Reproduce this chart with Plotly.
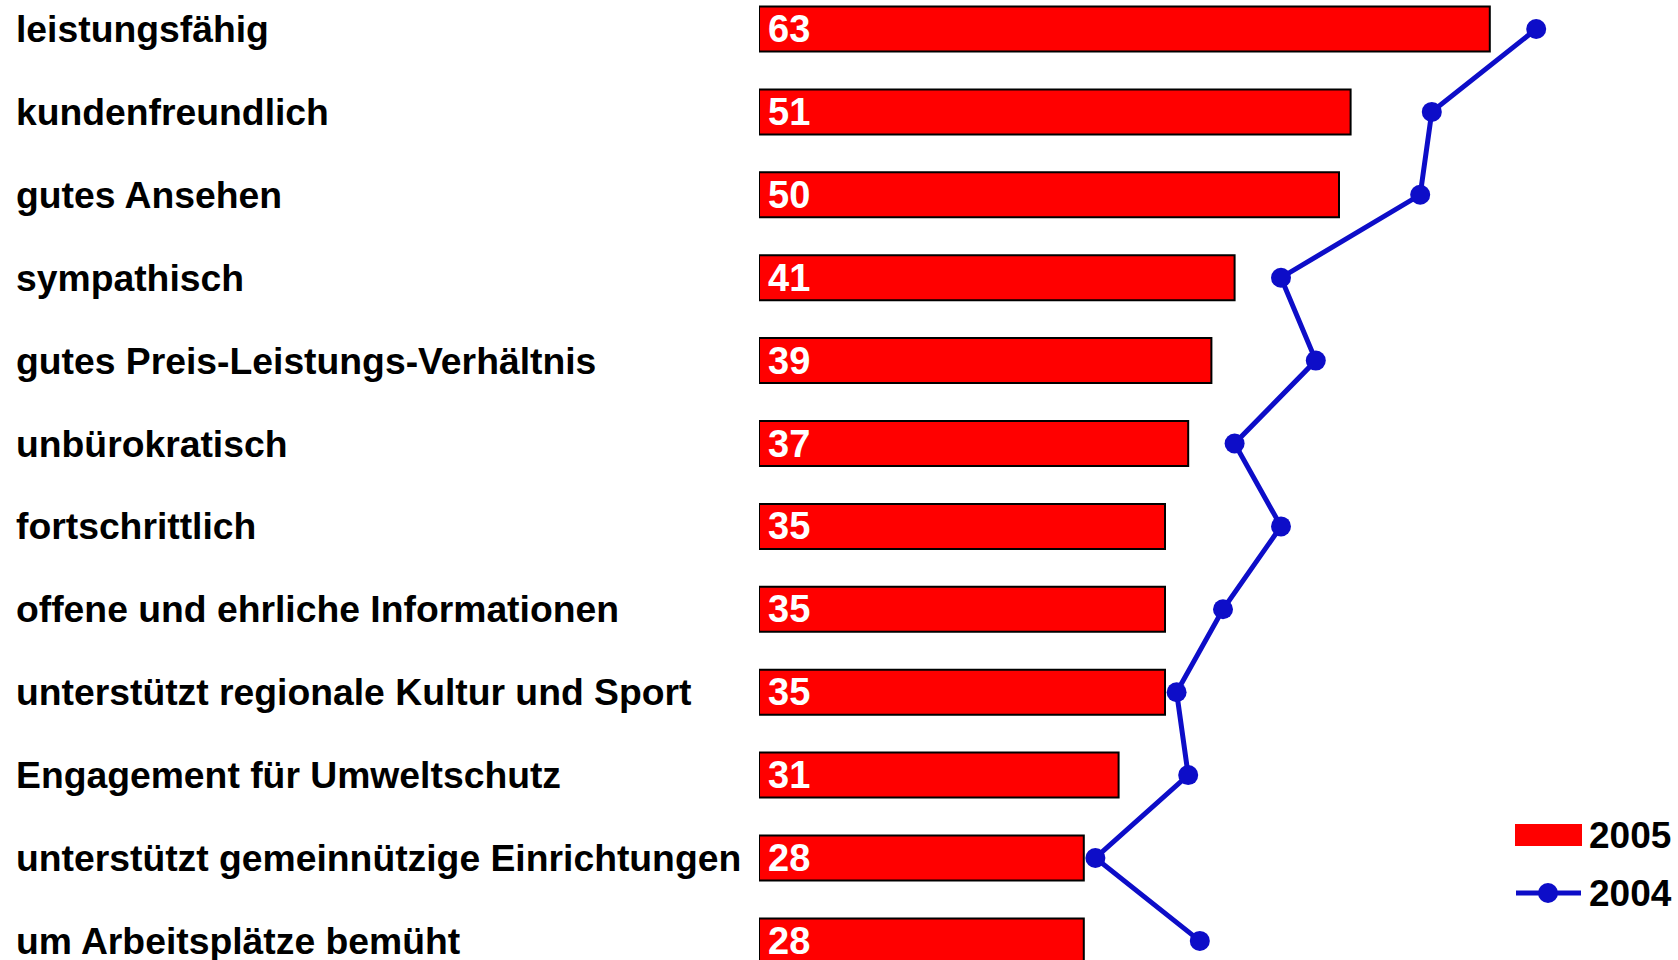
import plotly.graph_objects as go

categories = [
    "leistungsfähig",
    "kundenfreundlich",
    "gutes Ansehen",
    "sympathisch",
    "gutes Preis-Leistungs-Verhältnis",
    "unbürokratisch",
    "fortschrittlich",
    "offene und ehrliche Informationen",
    "unterstützt regionale Kultur und Sport",
    "Engagement für Umweltschutz",
    "unterstützt gemeinnützige Einrichtungen",
    "um Arbeitsplätze bemüht",
]
values_2005 = [63, 51, 50, 41, 39, 37, 35, 35, 35, 31, 28, 28]
values_2004 = [67, 58, 57, 45, 48, 41, 45, 40, 36, 37, 29, 38]
series_names = ["2005", "2004"]

RED = "#FF0000"
BLUE = "#0D0DC8"
FONT = "Liberation Sans, Arial, sans-serif"

W, H = 1678, 960
ML = 759
PLOT_W = W - ML
PX_PER_UNIT = 11.6

fig = go.Figure()
fig.add_trace(go.Bar(
    y=categories, x=values_2005, orientation="h", name=series_names[0],
    marker=dict(color=RED, line=dict(color="black", width=2)),
    hoverinfo="x+y",
))
fig.add_trace(go.Scatter(
    y=categories, x=values_2004, mode="lines+markers", name=series_names[1],
    line=dict(color=BLUE, width=5),
    marker=dict(color=BLUE, size=20),
))

annotations = []
for cat, v in zip(categories, values_2005):
    annotations.append(dict(
        x=0, y=cat, xref="x", yref="y", text=str(v), showarrow=False,
        xanchor="left", yanchor="middle", xshift=7,
        font=dict(family=FONT, size=38, color="white", weight="bold"),
    ))
    annotations.append(dict(
        x=(14 - ML) / PLOT_W, y=cat, xref="paper", yref="y", text=cat,
        showarrow=False, xanchor="left", yanchor="middle",
        font=dict(family=FONT, size=37.3, color="black", weight="bold"),
    ))

# custom legend
def px_x(px):
    return (px - ML) / PLOT_W

def px_y(py):
    return 1 - py / H

shapes = [
    dict(type="rect", xref="paper", yref="paper",
         x0=px_x(1515), x1=px_x(1582), y0=px_y(846), y1=px_y(824),
         fillcolor=RED, line=dict(width=0)),
    dict(type="line", xref="paper", yref="paper",
         x0=px_x(1516), x1=px_x(1581), y0=px_y(893), y1=px_y(893),
         line=dict(color=BLUE, width=5)),
    dict(type="circle", xref="paper", yref="paper",
         xsizemode="pixel", ysizemode="pixel",
         xanchor=px_x(1548), yanchor=px_y(893),
         x0=-10, x1=10, y0=-10, y1=10,
         fillcolor=BLUE, line=dict(width=0)),
]
for name, py in zip(series_names, [835, 893]):
    annotations.append(dict(
        x=px_x(1587), y=px_y(py), xref="paper", yref="paper", text=name,
        showarrow=False, xanchor="left", yanchor="middle",
        font=dict(family=FONT, size=37, color="black", weight="bold"),
    ))

# y range so category centres fall at 29 px and spacing 82.9 px
spacing = 82.9
first_c = 29.0
y_top = -first_c / spacing
y_bot = (H - first_c) / spacing

fig.update_layout(
    width=W, height=H,
    margin=dict(l=ML, r=0, t=0, b=0),
    paper_bgcolor="white", plot_bgcolor="white",
    showlegend=False,
    bargap=0.457,
    xaxis=dict(range=[0, PLOT_W / PX_PER_UNIT], visible=False),
    yaxis=dict(type="category", categoryorder="array", categoryarray=categories,
               range=[y_bot, y_top], visible=False),
    annotations=annotations,
    shapes=shapes,
)

fig.write_html(
    "out.html",
    config={"displayModeBar": False},
    post_script="document.body.style.margin='0';document.body.style.overflow='hidden';",
)
